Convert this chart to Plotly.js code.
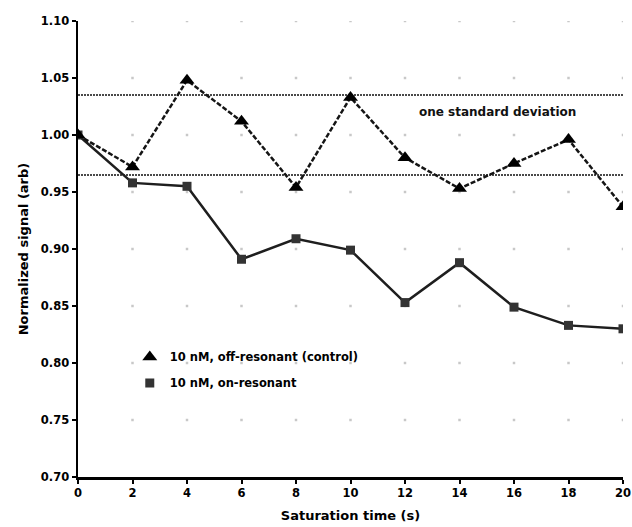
<!DOCTYPE html>
<html>
<head>
<meta charset="utf-8">
<script src="https://cdn.plot.ly/plotly-3.0.1.min.js"></script>
<style>html,body{margin:0;padding:0;background:#fff;}#chart{width:632px;height:527px;}</style>
</head>
<body>
<div id="chart"></div>
<script>
// ---- data ----
const times = [0, 2, 4, 6, 8, 10, 12, 14, 16, 18, 20];
const offResonant = [1.000, 0.972, 1.048, 1.012, 0.954, 1.033, 0.980, 0.953, 0.975, 0.996, 0.937];
const onResonant  = [1.000, 0.958, 0.955, 0.891, 0.909, 0.899, 0.853, 0.888, 0.849, 0.833, 0.830];
const sdBand = [0.965, 1.035];
const xTickVals = [0, 2, 4, 6, 8, 10, 12, 14, 16, 18, 20];
const yTickVals = [0.70, 0.75, 0.80, 0.85, 0.90, 0.95, 1.00, 1.05, 1.10];
const yTickText = ['0.70','0.75','0.80','0.85','0.90','0.95','1.00','1.05','1.10'];
const seriesNames = ['10 nM, off-resonant (control)', '10 nM, on-resonant'];
const sdLabel = 'one standard deviation';

// grid dots at tick intersections
const gx = [], gy = [];
xTickVals.forEach(x => { if (x === 0) return; yTickVals.forEach(y => { if (y === 0.70) return; gx.push(x); gy.push(y); }); });

const font = {family: '"DejaVu Sans", "Open Sans", sans-serif', color: '#000', weight: 'bold'};

const traces = [
  {x: gx, y: gy, mode: 'markers', type: 'scatter', hoverinfo: 'skip', showlegend: false,
   marker: {symbol: 'square', size: 2.5, color: '#c8c8c8'}},
  {x: times, y: onResonant, mode: 'lines+markers', type: 'scatter', showlegend: false,
   line: {color: '#1e1e1e', width: 2.5},
   marker: {symbol: 'square', size: 9, color: '#333333'}},
  {x: times, y: offResonant, mode: 'lines+markers', type: 'scatter', showlegend: false,
   line: {color: '#151515', width: 2.5, dash: '5px,2px'},
   marker: {symbol: 'triangle-up', size: 13, color: '#000000'}},
  {x: [null], y: [null], mode: 'markers', type: 'scatter', name: seriesNames[0], legendgroup: 'a',
   marker: {symbol: 'triangle-up', size: 13, color: '#000000'}},
  {x: [null], y: [null], mode: 'markers', type: 'scatter', name: seriesNames[1], legendgroup: 'b',
   marker: {symbol: 'square', size: 9, color: '#333333'}}
];

const shapes = sdBand.map(v => ({
  type: 'line', xref: 'paper', x0: 0, x1: 1, yref: 'y', y0: v, y1: v,
  line: {color: '#4a4a4a', width: 2, dash: '2px,1px'}, layer: 'below'
}));

const layout = {
  width: 632, height: 527,
  margin: {l: 78, r: 9, t: 21, b: 50},
  paper_bgcolor: '#fff', plot_bgcolor: '#fff',
  font: font,
  showlegend: true,
  legend: {x: 0.095, y: 0.295, xanchor: 'left', yanchor: 'top', bgcolor: 'rgba(0,0,0,0)',
           font: {family: font.family, size: 11.5, color: '#000', weight: 'bold'},
           traceorder: 'grouped', tracegroupgap: 7},
  xaxis: {range: [0, 20], tickvals: xTickVals, ticktext: xTickVals.map(String),
          showgrid: false, zeroline: false, showline: true, linecolor: '#000', linewidth: 2.5,
          ticks: 'outside', ticklen: 4, tickwidth: 2, tickcolor: '#000',
          tickfont: {family: font.family, size: 11.5, color: '#000', weight: 'bold'},
          title: {text: 'Saturation time (s)', standoff: 12,
                  font: {family: font.family, size: 13, color: '#000', weight: 'bold'}}},
  yaxis: {range: [0.70, 1.10], tickvals: yTickVals, ticktext: yTickText,
          showgrid: false, zeroline: false, showline: true, linecolor: '#000', linewidth: 2.5,
          ticks: 'outside', ticklen: 4, tickwidth: 2, tickcolor: '#000',
          tickfont: {family: font.family, size: 11.5, color: '#000', weight: 'bold'},
          title: {text: 'Normalized signal (arb)', standoff: 10,
                  font: {family: font.family, size: 13, color: '#000', weight: 'bold'}}},
  shapes: shapes,
  annotations: [{x: 15.38, y: 1.020, xref: 'x', yref: 'y', text: sdLabel, showarrow: false,
                 font: {family: font.family, size: 12, color: '#111', weight: 'bold'}}]
};

Plotly.newPlot('chart', traces, layout, {displayModeBar: false, staticPlot: true});
</script>
</body>
</html>
